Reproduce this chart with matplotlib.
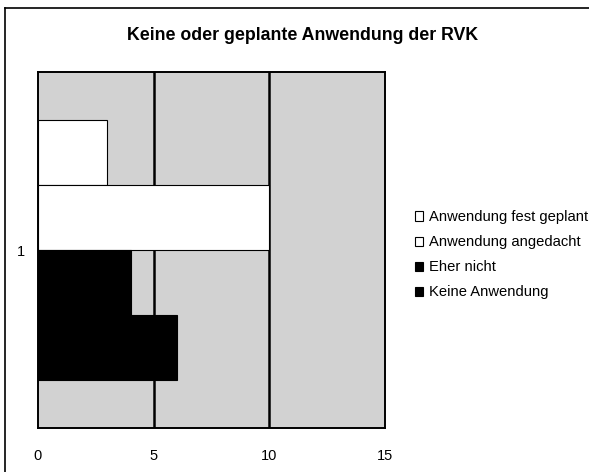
import matplotlib
matplotlib.use("Agg")
import matplotlib.pyplot as plt
from matplotlib.lines import Line2D
import numpy as np

plt.rcParams['font.family'] = ['Liberation Sans', 'DejaVu Sans']

# data (top bar first)
series = ["Anwendung fest geplant", "Anwendung angedacht", "Eher nicht", "Keine Anwendung"]
values = [3, 10, 4, 6]
colors = ["white", "white", "black", "black"]
category = 1
xticks = [0, 5, 10, 15]

fig = plt.figure(figsize=(5.89, 4.72), dpi=100)
ax = fig.add_axes([38/589, 1-428/472, (385-38)/589, (428-72)/472])
ax.set_facecolor('#d2d2d2')

h = 0.183
offsets = np.array([1.5, 0.5, -0.5, -1.5]) * h
for name, v, c, off in zip(series, values, colors, offsets):
    ax.barh(category + off, v, height=h, color=c, edgecolor='black', linewidth=0.8, label=name, zorder=3)

ax.set_xlim(0, 15)
ax.set_ylim(0.5, 1.5)
ax.set_xticks(xticks)
ax.set_yticks([category])
ax.tick_params(length=0, labelsize=10.5)
ax.tick_params(axis='x', pad=15)
ax.tick_params(axis='y', pad=9)
for x in [5, 10]:
    ax.axvline(x, color='black', linewidth=1.8, zorder=2)
for s in ax.spines.values():
    s.set_linewidth(1.4)
    s.set_color('black')

fig.suptitle("Keine oder geplante Anwendung der RVK", x=303/589, y=1-35/472,
             va='center', fontsize=12.8, fontweight='bold')

handles = [plt.Rectangle((0, 0), 1, 1, facecolor=c, edgecolor='black', linewidth=0.8) for c in colors]
fig.legend(handles, series, loc='upper left', bbox_to_anchor=(408/589, 1-203/472),
           frameon=False, fontsize=10.6, handlelength=0.55, handleheight=0.6,
           handletextpad=0.4, labelspacing=0.75, borderpad=0)

# outer frame (top and left edges)
fig.add_artist(Line2D([5/589, 1], [1-8/472, 1-8/472], color='black', linewidth=1.2, transform=fig.transFigure))
fig.add_artist(Line2D([5/589, 5/589], [0, 1-8/472], color='black', linewidth=1.2, transform=fig.transFigure))

fig.savefig("out.png", dpi=100)
